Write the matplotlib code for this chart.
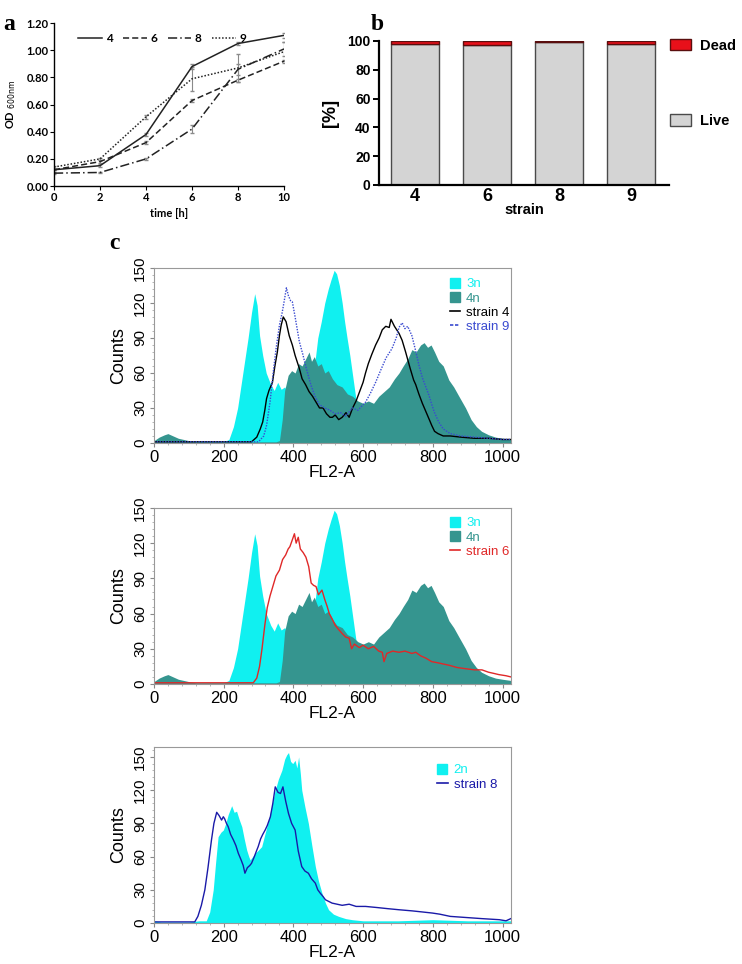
from __future__ import annotations
import matplotlib
matplotlib.use("Agg")
import matplotlib.pyplot as plt
from matplotlib.lines import Line2D
from matplotlib.patches import Patch
from matplotlib.ticker import FormatStrFormatter, MultipleLocator

# ---- panel a: growth curves (OD600) ----
time_h = [0, 2, 4, 6, 8, 10]
od_4 = [0.12, 0.15, 0.38, 0.88, 1.05, 1.11]
od_6 = [0.12, 0.18, 0.32, 0.63, 0.78, 0.92]
od_8 = [0.095, 0.10, 0.20, 0.42, 0.86, 1.01]
od_9 = [0.14, 0.20, 0.51, 0.79, 0.87, 0.99]
err_4 = [0.005, 0.01, 0.01, 0.02, 0.01, 0.02]
err_6 = [0.005, 0.01, 0.01, 0.01, 0.01, 0.01]
err_8 = [0.005, 0.005, 0.01, 0.03, 0.04, 0.05]
err_9 = [0.005, 0.01, 0.015, 0.09, 0.10, 0.07]

# ---- panel b: live/dead ----
strains = ["4", "6", "8", "9"]
dead_pct = [2.0, 2.5, 0.6, 2.2]
live_pct = [100 - d for d in dead_pct]

# ---- panel c: FL2-A histograms ----
x_3n = [0, 100, 200, 215, 228, 240, 255, 270, 280, 289, 296, 303, 312, 322, 335, 345, 355, 365, 375, 385,
        400, 420, 440, 452, 462, 470, 480, 490, 500, 508, 517, 524, 532, 540, 547, 554, 562, 569, 576, 583,
        592, 602, 620, 650, 1024]
y_3n = [1, 1, 1, 3, 14, 30, 60, 90, 112, 128, 118, 92, 75, 60, 50, 45, 52, 46, 48, 42,
        45, 40, 44, 55, 70, 90, 104, 120, 132, 140, 148, 145, 135, 120, 104, 90, 75, 60, 45, 30,
        18, 9, 3, 1, 1]

x_4n = [0, 15, 30, 40, 55, 70, 85, 100, 120, 350, 360, 368, 375, 385, 395, 405, 415, 425, 435, 445,
        452, 460, 470, 480, 490, 500, 512, 525, 540, 555, 570, 585, 600, 615, 630, 645, 660, 675, 690, 703,
        715, 728, 740, 752, 765, 775, 785, 795, 805, 817, 830, 846, 860, 875, 894, 910, 925, 940, 960, 980,
        1000, 1024]
y_4n = [2, 5, 7, 8, 6, 4, 3, 2, 1, 1, 2, 20, 45, 58, 62, 60, 68, 66, 72, 78,
        70, 74, 66, 68, 60, 62, 55, 50, 48, 42, 40, 36, 34, 36, 34, 40, 44, 48, 55, 60,
        66, 72, 80, 78, 84, 86, 82, 84, 78, 70, 66, 54, 48, 40, 30, 20, 14, 10, 7, 5,
        4, 3]

x_s4 = [0, 280, 295, 305, 312, 318, 323, 330, 340, 347, 354, 360, 365, 371, 379, 388, 397, 405, 417, 425,
        435, 445, 455, 465, 475, 485, 495, 505, 512, 520, 530, 540, 551, 560, 570, 580, 590, 600, 607, 615,
        625, 636, 646, 655, 665, 675, 680, 690, 703, 712, 722, 735, 745, 751, 760, 770, 780, 790, 797, 805,
        815, 830, 850, 880, 920, 960, 1000, 1024]
y_s4 = [1, 1, 5, 12, 18, 28, 38, 45, 52, 66, 78, 92, 101, 108, 104, 92, 84, 75, 64, 55,
        50, 44, 40, 35, 30, 30, 25, 22, 22, 24, 20, 22, 26, 22, 30, 36, 44, 52, 60, 68,
        76, 84, 90, 97, 100, 99, 106, 100, 94, 88, 78, 64, 54, 50, 42, 34, 27, 20, 15, 10,
        8, 6, 6, 5, 4, 4, 3, 3]

x_s9 = [0, 300, 315, 323, 333, 342, 350, 360, 368, 375, 380, 386, 392, 397, 405, 417, 427, 437, 450, 462,
        474, 490, 505, 520, 535, 550, 569, 585, 607, 620, 636, 650, 666, 683, 695, 703, 712, 720, 728, 740,
        750, 760, 770, 780, 790, 797, 805, 817, 830, 850, 880, 920, 1000, 1024]
y_s9 = [1, 1, 6, 15, 35, 60, 80, 101, 112, 124, 133, 126, 122, 121, 108, 87, 76, 64, 50, 40,
        33, 30, 28, 25, 26, 23, 30, 28, 35, 42, 52, 62, 73, 81, 90, 99, 103, 98, 100, 92,
        80, 67, 56, 48, 40, 33, 26, 18, 12, 8, 6, 5, 3, 3]

x_s6 = [0, 285, 295, 303, 310, 318, 325, 333, 340, 350, 360, 369, 378, 385, 390, 396, 403, 408, 414, 420,
        428, 436, 444, 451, 458, 465, 472, 482, 490, 497, 503, 512, 520, 531, 540, 550, 560, 567, 575, 589,
        600, 615, 630, 645, 655, 660, 668, 685, 703, 720, 740, 751, 765, 780, 797, 815, 830, 846, 870, 894,
        920, 941, 960, 975, 989, 1010, 1024]
y_s6 = [1, 1, 5, 15, 30, 50, 65, 75, 82, 92, 97, 106, 110, 115, 117, 122, 128, 120, 125, 115,
        112, 108, 100, 86, 84, 83, 76, 80, 72, 66, 60, 55, 50, 46, 43, 40, 39, 30, 34, 31,
        33, 30, 32, 28, 27, 19, 26, 28, 27, 28, 26, 27, 24, 22, 19, 18, 17, 16, 14, 13,
        12, 12, 10, 9, 8, 7, 6]

x_2n = [0, 20, 60, 100, 130, 150, 160, 170, 177, 184, 192, 199, 206, 213, 223, 230, 237, 244, 252, 259,
        266, 272, 276, 283, 290, 300, 309, 318, 329, 338, 348, 357, 367, 375, 381, 386, 392, 398, 405, 410,
        415, 420, 424, 433, 443, 453, 463, 472, 482, 492, 501, 515, 530, 550, 569, 600, 700, 800, 900, 1000,
        1024]
y_2n = [2, 1, 1, 1, 2, 2, 10, 30, 55, 78, 82, 84, 90, 98, 106, 100, 101, 94, 87, 76,
        66, 60, 57, 60, 63, 66, 69, 80, 93, 106, 120, 130, 138, 148, 152, 154, 146, 144, 147, 140,
        150, 135, 120, 105, 90, 70, 51, 38, 27, 18, 12, 8, 6, 4, 3, 2, 2, 3, 2, 2,
        2]

x_s8 = [0, 117, 126, 136, 146, 155, 165, 172, 180, 187, 194, 199, 203, 208, 213, 220, 228, 235, 242, 250,
        256, 261, 268, 275, 280, 288, 294, 299, 306, 312, 319, 325, 334, 341, 348, 356, 363, 370, 378, 386,
        395, 405, 414, 424, 433, 443, 452, 463, 470, 477, 485, 492, 511, 540, 560, 580, 607, 640, 670, 703,
        740, 770, 799, 820, 850, 895, 940, 991, 1010, 1024]
y_s8 = [1, 1, 6, 16, 30, 50, 75, 90, 100, 97, 93, 96, 94, 90, 87, 80, 75, 70, 63, 57,
        52, 45, 50, 52, 54, 60, 65, 69, 76, 80, 84, 88, 96, 108, 123, 118, 117, 123, 110, 99,
        90, 84, 65, 51, 47, 45, 40, 36, 30, 27, 24, 21, 18, 16, 17, 15, 15, 14, 13, 12,
        11, 10, 9, 8, 6, 5, 4, 3, 2, 4]

CYAN = "#10f0f0"
TEAL = "#35958f"
RED = "#e02828"
BLUE9 = "#3a4ad0"
BLUE8 = "#1a1aa8"
SANS = ["Liberation Sans", "DejaVu Sans"]
LATO = ["Lato", "DejaVu Sans"]


def style_hist(ax, ytop=150):
    ax.set_xlim(0, 1024)
    ax.set_ylim(0, ytop)
    ax.set_xticks([0, 200, 400, 600, 800, 1000])
    ax.set_yticks([0, 30, 60, 90, 120, 150])
    ax.xaxis.set_minor_locator(MultipleLocator(40))
    ax.yaxis.set_minor_locator(MultipleLocator(6))
    ax.tick_params(axis="x", labelsize=12, length=3, color="#888888", pad=2)
    ax.tick_params(axis="y", labelsize=11, length=3, color="#888888", labelrotation=90, pad=2)
    ax.tick_params(which="minor", length=1.5, color="#aaaaaa")
    for lbl in ax.get_yticklabels():
        lbl.set_va("center")
    for sp in ax.spines.values():
        sp.set_color("#999999")
        sp.set_linewidth(0.8)
    ax.set_xlabel("FL2-A", fontsize=12.5, labelpad=0)
    ax.set_ylabel("Counts", fontsize=13, labelpad=4)


def hist_legend(ax, handles, labels, colors, anchor):
    leg = ax.legend(handles, labels, loc="upper left", bbox_to_anchor=anchor, frameon=False,
                    fontsize=9.5, handlelength=0.8, handletextpad=0.45, labelspacing=0.15,
                    borderpad=0)
    for txt, c in zip(leg.get_texts(), colors):
        txt.set_color(c)


def main() -> None:
    plt.rcParams["font.family"] = SANS
    fig = plt.figure(figsize=(7.42, 9.64), dpi=100)

    # ---------------- panel a ----------------
    ax_a = fig.add_axes([0.0728, 0.807, 0.31, 0.169])
    styles = [("4", od_4, err_4, "-"), ("6", od_6, err_6, (0, (4, 2))),
              ("8", od_8, err_8, (0, (6, 2, 1, 2))), ("9", od_9, err_9, (0, (1, 1.2)))]
    handles = []
    for name, ys, es, ls in styles:
        ax_a.errorbar(time_h, ys, yerr=es, color="#222222", ls=ls, lw=1.1,
                      ecolor="#8a8a8a", elinewidth=0.8, capsize=1.5)
        handles.append(Line2D([], [], color="#222222", ls=ls, lw=1.1))
    ax_a.set_xlim(0, 10)
    ax_a.set_ylim(0, 1.2)
    ax_a.set_xticks(range(0, 11, 2))
    ax_a.set_yticks([0, 0.2, 0.4, 0.6, 0.8, 1.0, 1.2])
    ax_a.yaxis.set_major_formatter(FormatStrFormatter("%.2f"))
    for sp in ("top", "right"):
        ax_a.spines[sp].set_visible(False)
    for sp in ("left", "bottom"):
        ax_a.spines[sp].set_linewidth(1.0)
    ax_a.tick_params(labelsize=8, length=3, pad=1)
    for lbl in ax_a.get_xticklabels() + ax_a.get_yticklabels():
        lbl.set_fontweight("bold")
        lbl.set_family(LATO)
    ax_a.set_xlabel("time [h]", fontsize=8, fontweight="bold", family=LATO, labelpad=4)
    ax_a.set_ylabel(r"OD $_{\rm 600nm}$", fontsize=8, fontweight="bold", family=LATO, labelpad=6)
    leg_a = ax_a.legend(handles, [s[0] for s in styles], loc="upper left", bbox_to_anchor=(0.07, 0.99),
                        ncol=4, frameon=False, fontsize=8.5, handlelength=2.0, handletextpad=0.3,
                        columnspacing=0.9, borderpad=0.2)
    for t in leg_a.get_texts():
        t.set_fontweight("bold")
        t.set_family(LATO)

    # ---------------- panel b ----------------
    ax_b = fig.add_axes([0.5108, 0.8081, 0.391, 0.1494])
    pos = range(len(strains))
    ax_b.bar(pos, live_pct, width=0.667, color="#d4d4d4", edgecolor="#4a4a4a", lw=1.0)
    ax_b.bar(pos, dead_pct, bottom=live_pct, width=0.667, color="#e8101a", edgecolor="#5a0e0e", lw=1.0)
    ax_b.set_xlim(-0.5, 3.53)
    ax_b.set_ylim(0, 100)
    ax_b.set_yticks(range(0, 101, 20))
    ax_b.set_xticks(list(pos))
    ax_b.set_xticklabels(strains)
    for sp in ("top", "right"):
        ax_b.spines[sp].set_visible(False)
    for sp in ("left", "bottom"):
        ax_b.spines[sp].set_linewidth(1.6)
    ax_b.tick_params(axis="y", labelsize=10, width=1.4, length=4, pad=2)
    ax_b.tick_params(axis="x", labelsize=13, length=0, pad=2)
    for lbl in ax_b.get_xticklabels() + ax_b.get_yticklabels():
        lbl.set_fontweight("bold")
    ax_b.set_xlabel("strain", fontsize=10.5, fontweight="bold", labelpad=-1)
    ax_b.set_ylabel("[%]", fontsize=13, fontweight="bold", labelpad=6)
    fig.legend([Patch(facecolor="#e8101a", edgecolor="#5a0e0e"), Patch(facecolor="#d4d4d4", edgecolor="#4a4a4a")],
               ["Dead", "Live"], loc="upper left", bbox_to_anchor=(0.903, 0.96), frameon=False,
               prop={"weight": "bold", "size": 10.5}, handlelength=1.45, handleheight=0.85,
               labelspacing=4.2, handletextpad=0.6, borderpad=0, borderaxespad=0)

    # ---------------- panel c ----------------
    ax_c1 = fig.add_axes([0.2075, 0.5405, 0.481, 0.1815])
    ax_c1.fill_between(x_3n, y_3n, color=CYAN, lw=0)
    ax_c1.fill_between(x_4n, y_4n, color=TEAL, lw=0)
    ax_c1.plot(x_s4, y_s4, color="black", lw=1.0)
    ax_c1.plot(x_s9, y_s9, color=BLUE9, lw=1.0, ls=(0, (1, 1)))
    style_hist(ax_c1)
    hist_legend(ax_c1,
                [Line2D([], [], marker="s", ls="none", color=CYAN, ms=7),
                 Line2D([], [], marker="s", ls="none", color=TEAL, ms=7),
                 Line2D([], [], color="black", lw=1.2),
                 Line2D([], [], color=BLUE9, lw=1.2, ls=(0, (2, 1)))],
                ["3n", "4n", "strain 4", "strain 9"], [CYAN, TEAL, "black", BLUE9], (0.81, 0.98))

    ax_c2 = fig.add_axes([0.2075, 0.2905, 0.481, 0.1826])
    ax_c2.fill_between(x_3n, y_3n, color=CYAN, lw=0)
    ax_c2.fill_between(x_4n, y_4n, color=TEAL, lw=0)
    ax_c2.plot(x_s6, y_s6, color=RED, lw=1.0)
    style_hist(ax_c2)
    hist_legend(ax_c2,
                [Line2D([], [], marker="s", ls="none", color=CYAN, ms=7),
                 Line2D([], [], marker="s", ls="none", color=TEAL, ms=7),
                 Line2D([], [], color=RED, lw=1.2)],
                ["3n", "4n", "strain 6"], [CYAN, TEAL, RED], (0.81, 0.985))

    ax_c3 = fig.add_axes([0.2075, 0.0425, 0.481, 0.1826])
    ax_c3.fill_between(x_2n, y_2n, color=CYAN, lw=0)
    ax_c3.plot(x_s8, y_s8, color=BLUE8, lw=1.0)
    style_hist(ax_c3, ytop=159)
    hist_legend(ax_c3,
                [Line2D([], [], marker="s", ls="none", color=CYAN, ms=7),
                 Line2D([], [], color=BLUE8, lw=1.2)],
                ["2n", "strain 8"], [CYAN, BLUE8], (0.775, 0.94))

    # panel letters
    serif = ["Liberation Serif", "DejaVu Serif"]
    fig.text(0.005, 0.985, "a", fontsize=17, fontweight="bold", family=serif, va="top")
    fig.text(0.500, 0.985, "b", fontsize=17, fontweight="bold", family=serif, va="top")
    fig.text(0.147, 0.758, "c", fontsize=17, fontweight="bold", family=serif, va="top")

    fig.savefig("out.png", dpi=100)
    plt.close(fig)


if __name__ == "__main__":
    main()
